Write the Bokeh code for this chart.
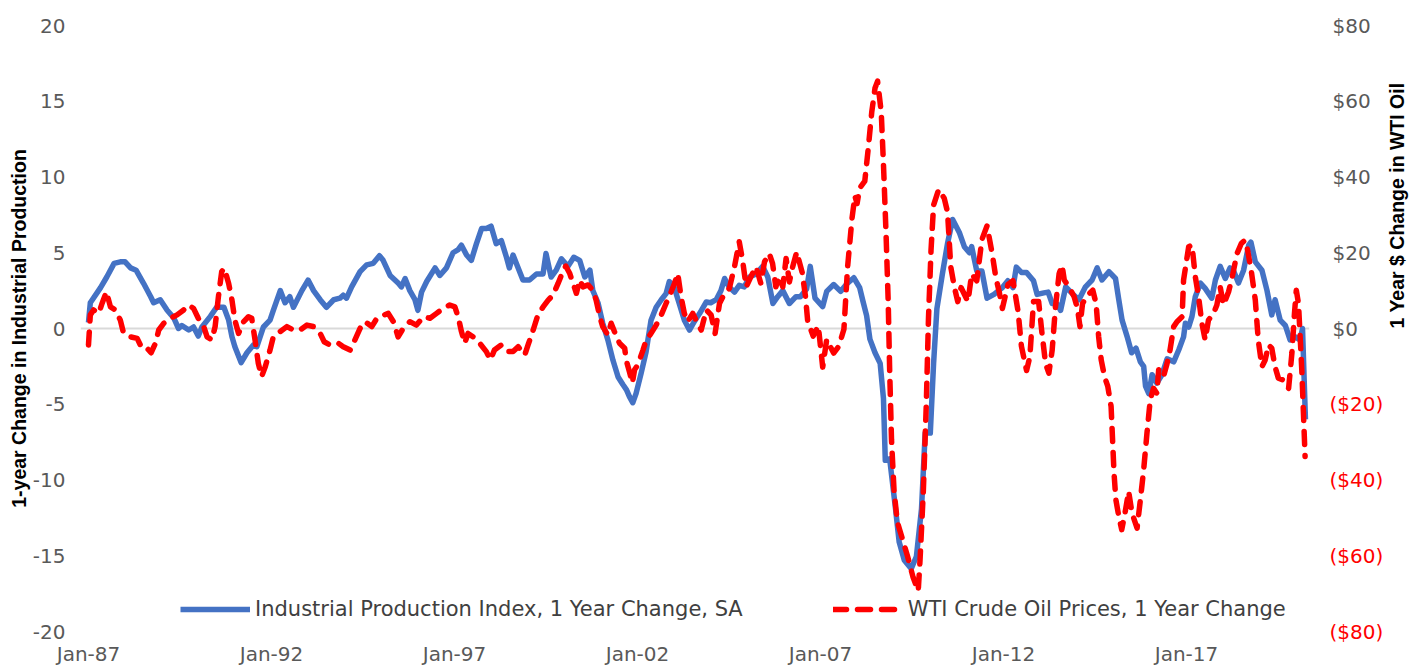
import math
from bokeh.plotting import figure
from bokeh.models import Range1d, LinearAxis, FixedTicker, Legend, LegendItem
from bokeh.embed import file_html
from bokeh.resources import INLINE

# ---------------- data (decimal year, value) ----------------
ip_dates = [
    1987.00, 1987.05, 1987.33, 1987.50, 1987.70, 1987.87, 1988.00, 1988.15, 1988.30, 1988.50,
    1988.70, 1988.78, 1988.96, 1989.15, 1989.33, 1989.46, 1989.55, 1989.74, 1989.87, 1990.00,
    1990.10, 1990.33, 1990.50, 1990.70, 1990.83, 1990.92, 1991.00, 1991.17, 1991.33, 1991.50,
    1991.60, 1991.78, 1991.96, 1992.05, 1992.24, 1992.37, 1992.50, 1992.60, 1992.83, 1993.00,
    1993.15, 1993.33, 1993.50, 1993.70, 1993.87, 1993.96, 1994.05, 1994.19, 1994.42, 1994.60,
    1994.78, 1994.95, 1995.05, 1995.24, 1995.46, 1995.55, 1995.65, 1995.78, 1995.92, 1996.00,
    1996.10, 1996.24, 1996.47, 1996.60, 1996.78, 1996.96, 1997.10, 1997.19, 1997.33, 1997.46,
    1997.60, 1997.74, 1997.87, 1998.00, 1998.14, 1998.28, 1998.42, 1998.50, 1998.60, 1998.74,
    1998.87, 1999.05, 1999.24, 1999.42, 1999.50, 1999.64, 1999.78, 1999.92, 2000.10, 2000.26,
    2000.42, 2000.56, 2000.70, 2000.78, 2000.92, 2001.05, 2001.19, 2001.33, 2001.47, 2001.60,
    2001.70, 2001.78, 2001.87, 2001.96, 2002.10, 2002.23, 2002.37, 2002.51, 2002.65, 2002.78,
    2002.87, 2003.00, 2003.14, 2003.28, 2003.42, 2003.55, 2003.70, 2003.88, 2004.00, 2004.15,
    2004.28, 2004.38, 2004.50, 2004.65, 2004.78, 2004.92, 2005.06, 2005.24, 2005.42, 2005.56,
    2005.70, 2005.83, 2005.97, 2006.15, 2006.33, 2006.45, 2006.62, 2006.72, 2006.85, 2007.06,
    2007.17, 2007.36, 2007.55, 2007.74, 2007.91, 2008.07, 2008.16, 2008.26, 2008.35, 2008.49,
    2008.63, 2008.72, 2008.77, 2008.89, 2009.05, 2009.15, 2009.29, 2009.48, 2009.62, 2009.76,
    2009.86, 2010.00, 2010.09, 2010.18, 2010.33, 2010.47, 2010.61, 2010.80, 2010.93, 2011.07,
    2011.13, 2011.27, 2011.41, 2011.55, 2011.74, 2011.97, 2012.12, 2012.26, 2012.35, 2012.49,
    2012.63, 2012.82, 2012.92, 2013.10, 2013.22, 2013.33, 2013.47, 2013.56, 2013.70, 2013.88,
    2014.06, 2014.24, 2014.42, 2014.56, 2014.69, 2014.88, 2015.06, 2015.15, 2015.24, 2015.38,
    2015.50, 2015.62, 2015.74, 2015.83, 2015.88, 2015.97, 2016.06, 2016.19, 2016.33, 2016.47,
    2016.65, 2016.79, 2016.92, 2016.97, 2017.06, 2017.15, 2017.24, 2017.38, 2017.51, 2017.69,
    2017.79, 2017.92, 2018.06, 2018.19, 2018.28, 2018.42, 2018.56, 2018.70, 2018.76, 2018.88,
    2019.06, 2019.20, 2019.33, 2019.42, 2019.56, 2019.70, 2019.83, 2019.97, 2020.10, 2020.17,
    2020.25,
]
ip_values = [
    0.4, 1.7, 2.7, 3.4, 4.3, 4.4, 4.4, 4.0, 3.85, 3.0,
    2.1, 1.7, 1.9, 1.2, 0.7, 0.0, 0.2, -0.1, 0.1, -0.5,
    0.1, 0.8, 1.4, 1.4, 0.55, -0.55, -1.2, -2.25, -1.6, -1.1,
    -1.2, 0.1, 0.55, 1.2, 2.5, 1.7, 2.1, 1.4, 2.5, 3.2,
    2.5, 1.9, 1.4, 1.9, 2.0, 2.2, 2.0, 2.75, 3.75, 4.2,
    4.3, 4.8, 4.5, 3.5, 3.0, 2.75, 3.3, 2.5, 1.9, 1.2,
    2.4, 3.1, 4.0, 3.5, 4.0, 5.0, 5.2, 5.5, 4.85, 4.5,
    5.6, 6.6, 6.6, 6.75, 5.6, 5.8, 4.7, 4.0, 4.85, 4.0,
    3.2, 3.2, 3.6, 3.6, 4.95, 3.4, 3.85, 4.6, 4.1, 4.7,
    4.5, 3.4, 3.85, 2.5, 1.7, 0.35, -0.75, -2.1, -3.2, -3.7,
    -4.05, -4.5, -4.9, -4.3, -2.95, -1.6, 0.55, 1.4, 1.9, 2.3,
    3.1, 2.75, 1.65, 0.55, -0.1, 0.45, 1.0, 1.75, 1.7, 1.9,
    2.5, 3.3, 2.75, 2.4, 2.85, 2.75, 3.4, 3.6, 4.1, 3.4,
    1.65, 2.1, 2.5, 1.65, 2.1, 2.1, 2.6, 4.1, 2.0, 1.45,
    2.45, 2.9, 2.45, 3.0, 3.35, 2.7, 1.8, 0.85, -0.7, -1.6,
    -2.3, -4.6, -8.7, -8.6, -11.9, -14.1, -15.3, -15.85, -15.05, -11.9,
    -6.9, -6.9, -2.3, 1.3, 3.6, 5.6, 7.2, 6.3, 5.4, 5.0,
    5.4, 3.8, 3.8, 2.0, 2.25, 2.7, 3.15, 2.7, 4.05, 3.7,
    3.7, 3.15, 2.25, 2.35, 2.4, 1.65, 1.6, 1.2, 2.75, 2.3,
    1.9, 2.75, 3.2, 4.0, 3.2, 3.75, 3.3, 1.9, 0.55, -0.55,
    -1.6, -1.3, -2.2, -2.5, -3.8, -4.3, -3.05, -3.6, -3.05, -2.0,
    -2.2, -1.4, -0.55, 0.35, 0.1, 0.8, 2.1, 3.0, 2.65, 2.0,
    3.2, 4.1, 3.3, 4.0, 3.85, 3.0, 3.85, 5.5, 5.7, 4.4,
    3.85, 2.5, 0.9, 1.9, 0.55, 0.2, -0.75, -0.55, -0.75, 0.0,
    -6.0,
]

oil_dates = [
    1987.00, 1987.05, 1987.14, 1987.28, 1987.37, 1987.49, 1987.60, 1987.74, 1987.87, 1987.96,
    1988.15, 1988.33, 1988.46, 1988.60, 1988.71, 1988.83, 1988.92, 1989.06, 1989.24, 1989.42,
    1989.60, 1989.74, 1989.87, 1990.00, 1990.15, 1990.24, 1990.37, 1990.46, 1990.55, 1990.64,
    1990.71, 1990.83, 1990.92, 1991.00, 1991.10, 1991.24, 1991.37, 1991.46, 1991.55, 1991.64,
    1991.73, 1991.83, 1991.96, 1992.05, 1992.24, 1992.42, 1992.60, 1992.78, 1992.97, 1993.15,
    1993.33, 1993.44, 1993.60, 1993.83, 1993.96, 1994.15, 1994.28, 1994.42, 1994.56, 1994.74,
    1994.88, 1994.96, 1995.19, 1995.33, 1995.46, 1995.60, 1995.78, 1995.96, 1996.15, 1996.33,
    1996.51, 1996.69, 1996.87, 1997.01, 1997.10, 1997.19, 1997.28, 1997.37, 1997.51, 1997.69,
    1997.87, 1997.98, 1998.09, 1998.28, 1998.46, 1998.60, 1998.74, 1998.92, 1999.01, 1999.15,
    1999.28, 1999.42, 1999.56, 1999.69, 1999.83, 1999.95, 2000.04, 2000.15, 2000.24, 2000.33,
    2000.42, 2000.51, 2000.65, 2000.78, 2000.87, 2000.97, 2001.05, 2001.19, 2001.28, 2001.37,
    2001.51, 2001.65, 2001.69, 2001.78, 2001.86, 2001.92, 2002.01, 2002.15, 2002.24, 2002.37,
    2002.51, 2002.65, 2002.78, 2002.92, 2003.01, 2003.10, 2003.19, 2003.28, 2003.37, 2003.51,
    2003.62, 2003.74, 2003.88, 2004.01, 2004.12, 2004.24, 2004.38, 2004.51, 2004.65, 2004.78,
    2004.87, 2004.97, 2005.10, 2005.24, 2005.37, 2005.47, 2005.60, 2005.69, 2005.78, 2005.87,
    2005.97, 2006.06, 2006.15, 2006.24, 2006.35, 2006.50, 2006.59, 2006.65, 2006.80, 2006.94,
    2007.06, 2007.17, 2007.36, 2007.50, 2007.64, 2007.74, 2007.86, 2007.94, 2008.00, 2008.07,
    2008.21, 2008.30, 2008.40, 2008.49, 2008.56, 2008.66, 2008.72, 2008.79, 2008.85, 2008.89,
    2008.94, 2009.01, 2009.10, 2009.24, 2009.38, 2009.53, 2009.67, 2009.72, 2009.81, 2009.89,
    2009.95, 2010.02, 2010.09, 2010.23, 2010.38, 2010.47, 2010.56, 2010.66, 2010.75, 2010.84,
    2011.03, 2011.13, 2011.27, 2011.41, 2011.55, 2011.69, 2011.79, 2011.88, 2011.97, 2012.12,
    2012.26, 2012.40, 2012.49, 2012.63, 2012.72, 2012.82, 2012.96, 2013.05, 2013.15, 2013.24,
    2013.33, 2013.42, 2013.52, 2013.60, 2013.66, 2013.79, 2013.93, 2014.02, 2014.09, 2014.16,
    2014.30, 2014.44, 2014.53, 2014.60, 2014.67, 2014.76, 2014.85, 2014.94, 2014.98, 2015.02,
    2015.07, 2015.15, 2015.23, 2015.32, 2015.42, 2015.51, 2015.65, 2015.74, 2015.83, 2015.92,
    2016.01, 2016.10, 2016.19, 2016.24, 2016.37, 2016.46, 2016.55, 2016.65, 2016.74, 2016.88,
    2016.92, 2017.06, 2017.15, 2017.24, 2017.33, 2017.42, 2017.51, 2017.60, 2017.74, 2017.83,
    2017.92, 2018.01, 2018.15, 2018.24, 2018.38, 2018.50, 2018.60, 2018.67, 2018.78, 2018.88,
    2018.96, 2019.06, 2019.15, 2019.24, 2019.33, 2019.42, 2019.51, 2019.65, 2019.79, 2019.88,
    2019.95, 2020.00, 2020.06, 2020.15, 2020.24,
]
oil_values = [
    -4.35, 3.6, 4.9, 4.0, 6.6, 9.7, 5.7, 4.9, 2.2, -1.3,
    -2.2, -2.6, -5.2, -5.2, -6.4, -3.9, -0.4, 1.4, 2.7, 3.6,
    4.9, 6.2, 5.3, 2.7, 0.5, -2.2, -3.0, 0.5, 8.4, 15.0,
    15.9, 11.9, 7.5, 2.2, -1.3, 1.8, 3.1, 2.7, -3.0, -9.2,
    -12.7, -10.1, -5.7, -2.2, -0.8, 0.5, -0.4, -0.4, 0.9, 0.5,
    -1.3, -3.5, -4.35, -3.9, -4.8, -5.7, -3.0, 0.05, 1.8, 0.5,
    2.7, 3.1, 4.0, 1.8, -2.2, 0.05, 1.8, 0.9, 3.1, 2.7,
    4.0, 5.3, 6.2, 5.7, 3.1, -0.8, -3.9, -1.3, -2.2, -3.9,
    -6.1, -8.3, -5.7, -4.35, -6.1, -6.1, -4.8, -7.0, -4.35, -0.4,
    3.6, 5.7, 7.5, 8.8, 11.9, 14.8, 16.5, 14.5, 11.9, 9.3,
    12.8, 11.0, 11.5, 10.1, 7.5, 3.1, 0.5, -1.7, 1.4, -0.8,
    -3.9, -5.2, -8.3, -11.4, -14.4, -10.9, -9.6, -5.7, -3.0, -1.3,
    0.9, 3.6, 6.6, 9.7, 11.9, 14.5, 8.4, 4.0, 1.8, 4.0,
    1.8, -0.4, 4.9, 3.6, -1.3, 6.6, 9.3, 10.6, 16.3, 22.9,
    18.1, 11.0, 13.7, 16.3, 11.9, 17.6, 19.8, 17.2, 11.0, 13.7,
    11.0, 18.5, 12.3, 16.3, 20.2, 14.8, 8.4, 2.0, -2.0, 0.7,
    -10.2, -2.9, -6.5, -4.7, -0.2, 16.2, 29.0, 35.0, 33.0, 37.1,
    38.9, 47.1, 57.1, 63.5, 65.3, 57.1, 43.5, 25.3, 7.1, -11.1,
    -29.3, -42.9, -51.1, -55.6, -60.2, -65.7, -69.3, -61.1, -42.9, -20.2,
    2.6, 20.7, 32.6, 36.7, 34.4, 30.8, 16.2, 10.8, 7.1, 10.8,
    7.1, 14.4, 12.6, 23.5, 27.1, 19.8, 13.5, 9.8, 5.3, 11.6,
    12.6, 4.4, -4.7, -11.1, -7.5, 7.1, 7.1, -1.1, -9.3, -11.8,
    -5.7, 5.7, 14.5, 16.7, 12.8, 11.0, 8.4, 5.3, 0.5, 6.6,
    8.8, 10.1, 6.6, -2.2, -8.3, -12.7, -15.3, -20.6, -29.4, -38.2,
    -45.2, -49.6, -53.1, -48.7, -43.0, -48.7, -52.7, -45.2, -37.3, -27.6,
    -18.8, -15.8, -17.1, -10.9, -12.7, -9.6, -5.7, 0.5, 1.8, 3.1,
    12.8, 21.6, 22.0, 13.7, 8.4, 1.4, -3.0, 2.2, 4.0, 6.2,
    11.0, 6.2, 9.7, 13.2, 19.8, 22.5, 23.3, 20.7, 14.5, 7.5,
    -3.0, -10.1, -8.3, -4.35, -5.2, -10.1, -13.1, -13.6, -15.8, -6.5,
    4.0, 10.1, 6.6, -10.9, -33.8,
]

left_ticks = [-20, -15, -10, -5, 0, 5, 10, 15, 20]
left_tick_labels = ["-20", "-15", "-10", "-5", "0", "5", "10", "15", "20"]
right_ticks = [-80, -60, -40, -20, 0, 20, 40, 60, 80]
right_tick_labels = ["($80)", "($60)", "($40)", "($20)", "$0", "$20", "$40", "$60", "$80"]
x_ticks = [1987, 1992, 1997, 2002, 2007, 2012, 2017]
x_tick_labels = ["Jan-87", "Jan-92", "Jan-97", "Jan-02", "Jan-07", "Jan-12", "Jan-17"]

series_names = ["Industrial Production Index, 1 Year Change, SA",
                "WTI Crude Oil Prices, 1 Year Change"]
left_title = "1-year Change in Industrial Production"
right_title = "1 Year $ Change in WTI Oil"

# ---------------- styling ----------------
TICK_FONT = "DejaVu Sans"
TITLE_FONT = "Liberation Sans"
GRAY = "#595959"
BLUE = "#4472C4"
RED = "#FF0000"

W, H = 1421, 668
BL, BR, BT, BB = 80, 110, 25, 36
PX_PER_YEAR = 36.66
X0 = 1987 - 8 / PX_PER_YEAR
X1 = X0 + (W - BL - BR) / PX_PER_YEAR

p = figure(width=W, height=H, output_backend="svg", toolbar_location=None,
           x_range=Range1d(X0, X1), y_range=Range1d(-20, 20),
           min_border_left=BL, min_border_right=BR, min_border_top=BT, min_border_bottom=BB)
p.outline_line_color = None
p.background_fill_color = "white"
p.border_fill_color = "white"
p.xgrid.visible = False
p.ygrid.ticker = FixedTicker(ticks=[0])
p.ygrid.grid_line_color = "#D9D9D9"
p.ygrid.grid_line_width = 2

p.extra_y_ranges = {"oil": Range1d(-80, 80)}


def plain_axis(ax, size="20px"):
    ax.axis_line_color = None
    ax.major_tick_line_color = None
    ax.minor_tick_line_color = None
    ax.major_tick_out = 0
    ax.major_tick_in = 0
    ax.minor_tick_out = 0
    ax.minor_tick_in = 0
    ax.major_label_text_font = TICK_FONT
    ax.major_label_text_font_size = size
    ax.major_label_text_color = GRAY


# left axis
ya = p.yaxis[0]
plain_axis(ya)
ya.ticker = FixedTicker(ticks=left_ticks)
ya.major_label_overrides = {t: s for t, s in zip(left_ticks, left_tick_labels)}
ya.major_label_standoff = 15
ya.axis_label = left_title
ya.axis_label_text_font = TITLE_FONT
ya.axis_label_text_font_style = "bold"
ya.axis_label_text_font_size = "19.5px"
ya.axis_label_text_color = "black"
ya.axis_label_standoff = 0

# bottom axis
xa = p.xaxis[0]
plain_axis(xa)
xa.ticker = FixedTicker(ticks=x_ticks)
xa.major_label_overrides = {t: s for t, s in zip(x_ticks, x_tick_labels)}
xa.major_label_standoff = 10

# right side: inner axis shows the negative (red) labels,
# outer axis shows the non-negative (gray) labels plus the title
NEG_W = 54  # approx. width of "($80)" at 20px
ra_neg = LinearAxis(y_range_name="oil", ticker=FixedTicker(ticks=right_ticks))
plain_axis(ra_neg)
ra_neg.major_label_text_color = RED
ra_neg.major_label_overrides = {t: (s if t < 0 else "") for t, s in zip(right_ticks, right_tick_labels)}
ra_neg.major_label_standoff = 20
p.add_layout(ra_neg, "right")

ra_pos = LinearAxis(y_range_name="oil", ticker=FixedTicker(ticks=right_ticks))
plain_axis(ra_pos)
ra_pos.major_label_overrides = {t: (s if t >= 0 else "") for t, s in zip(right_ticks, right_tick_labels)}
ra_pos.major_label_standoff = -NEG_W
ra_pos.axis_label = right_title
ra_pos.axis_label_text_font = TITLE_FONT
ra_pos.axis_label_text_font_style = "bold"
ra_pos.axis_label_text_font_size = "19.5px"
ra_pos.axis_label_text_color = "black"
ra_pos.axis_label_standoff = 23
try:
    ra_pos.axis_label_orientation = math.pi / 2
except Exception:
    pass
p.add_layout(ra_pos, "right")

# series
r_ip = p.line(ip_dates, ip_values, line_color=BLUE, line_width=5.5, line_join="round")
r_oil = p.line(oil_dates, oil_values, y_range_name="oil", line_color=RED, line_width=5.5,
               line_dash="13 11", line_cap="round", line_join="round")

legend = Legend(items=[LegendItem(label=series_names[0], renderers=[r_ip]),
                       LegendItem(label=series_names[1], renderers=[r_oil])],
                orientation="horizontal", location=(100, 10),
                border_line_color=None, background_fill_alpha=0,
                glyph_width=70, glyph_height=22, label_standoff=5, spacing=90,
                padding=0, margin=0,
                label_text_font=TICK_FONT, label_text_font_size="21px",
                label_text_color="#404040")
p.add_layout(legend)

open("out.html", "w").write(file_html(p, INLINE))
